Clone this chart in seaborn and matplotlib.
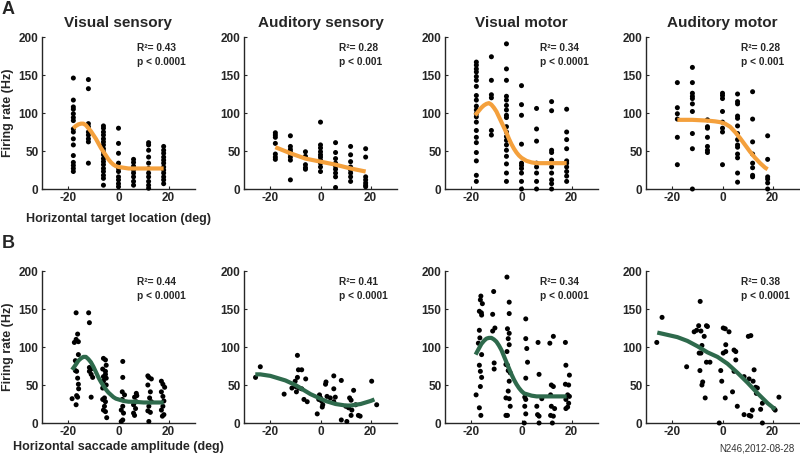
import numpy as np
import pandas as pd
import seaborn as sns
import matplotlib
matplotlib.use("Agg")
import matplotlib.pyplot as plt

# ---- data ----
locs = [-18, -12, -6, 0, 6, 12, 18]

# row A: firing rate at each target location
vis_sens = [[146, 117, 108, 105, 99, 94, 90, 79, 75, 66, 58, 44, 35, 31, 27, 23],
            [144, 132, 86, 82, 75, 71, 66, 62, 34],
            [83, 80, 75, 71, 66, 62, 58, 53, 49, 45, 40, 36, 32, 27, 23, 18, 14, 5],
            [80, 60, 47, 34, 27, 23, 16, 12, 7, 3],
            [39, 35, 30, 25, 21, 16, 10, 5],
            [61, 58, 51, 42, 34, 27, 21, 16, 10, 5, 1],
            [56, 51, 47, 42, 38, 34, 29, 25, 21, 16, 12, 7]]
aud_sens = [[74, 71, 68, 60, 46, 42, 39],
            [70, 56, 52, 49, 46, 42, 38, 12],
            [49, 43, 32, 28, 26],
            [88, 58, 54, 49, 45, 42, 38, 34, 29, 23],
            [61, 48, 40, 34, 30, 26, 21, 16, 2],
            [56, 45, 36, 29, 25, 21, 16, 10],
            [53, 42, 16, 12, 8, 5, 3]]
vis_mot = [[167, 163, 158, 154, 148, 143, 135, 123, 117, 109, 104, 99, 95, 88, 77, 68, 61, 48, 37, 18, 10],
           [174, 143, 124, 120, 77, 71],
           [191, 158, 143, 122, 117, 110, 104, 97, 94, 82, 75, 69, 64, 58, 51, 43, 33, 21, 10],
           [136, 111, 97, 59, 34, 31, 27, 21, 10, 0],
           [106, 79, 63, 34, 29, 21, 10, 0],
           [115, 103, 51, 48, 38, 29, 21, 12, 7, 0],
           [105, 75, 65, 53, 37, 34, 29, 23, 17, 10]]
aud_mot = [[140, 107, 99, 92, 68, 32],
           [160, 140, 126, 122, 119, 112, 102, 73, 53, 0],
           [91, 82, 80, 68, 56, 51, 48],
           [126, 123, 119, 102, 88, 80, 75, 32],
           [125, 115, 112, 96, 93, 83, 73, 65, 58, 55, 46, 41, 21, 9],
           [128, 92, 62, 46, 34, 28, 18, 16],
           [70, 39, 16, 13, 8, 0]]

# row B: firing rate vs saccade amplitude
vs_sac_x = [-16.9, -16.3, -16.9, -16.0, -17.6, -16.0, -17.2, -17.2, -16.7, -16.3, -16.0, -15.9, -16.7, -16.3, -18.5, -16.9,
            -11.9, -11.6, -11.6, -10.9, -11.6, -10.9, -10.3, -10.9,
            -6.0, -5.2, -4.9, -6.3, -5.2, -5.2, -6.0, -4.9, -6.0, -4.9, -6.3, -5.6, -6.3, -5.2, -5.6, -6.0, -5.2, -4.7,
            1.7, 1.7, 1.5, 2.4, 1.5, 1.7, 1.1, 2.0, 1.7, 1.1,
            7.1, 7.3, 6.4, 7.1, 6.0, 6.8, 6.0, 6.4,
            11.7, 12.1, 13.1, 11.7, 12.7, 12.4, 13.1, 12.1, 11.7, 12.7, 12.1,
            17.1, 17.7, 18.4, 17.1, 17.7, 18.1, 17.7, 17.1, 18.1, 17.5]
vs_sac_y = [145, 117, 110, 107, 106, 90, 82, 69, 68, 59, 51, 45, 36, 34, 32, 24,
            145, 132, 73, 71, 68, 64, 60, 34,
            85, 83, 76, 71, 68, 64, 61, 59, 55, 50, 46, 33, 31, 28, 22, 17, 15, 7,
            81, 60, 41, 37, 31, 22, 17, 13, 4, 2,
            39, 36, 34, 28, 24, 19, 13, 10,
            62, 60, 58, 50, 41, 33, 28, 22, 16, 14, 2,
            55, 51, 47, 41, 35, 29, 22, 17, 11, 9]
as_sac_x = [-25.9, -24.0, -14.5, -11.4, -10.1, -9.2, -8.8, -7.5, -9.2, -9.9, -9.6, -8.6, -7.5, -5.9, -6.6,
            -5.3, -1.3, -0.4, 0.0, -0.7, 0.4, 2.0, 2.2, 0.9, 0.7, 2.6, 3.9, 5.3, 5.3, 5.9,
            5.3, 8.3, 8.3, 10.5, 10.1, 11.2, 11.6, 12.2, 13.2, 12.5, 12.2, 14.0, 15.1, 15.8, 20.4, 22.4]
as_sac_y = [60, 74, 38, 46, 55, 89, 70, 70, 60, 48, 41, 46, 45, 58, 31,
            28, 12, 37, 33, 31, 29, 51, 54, 24, 21, 35, 33, 62, 45, 34,
            28, 56, 4, 2, 22, 20, 33, 30, 43, 17, 10, 24, 10, 9, 55, 24]
vm_sac_x = [-16.2, -16.4, -16.8, -16.0, -15.9, -16.8, -17.2, -15.9, -16.8, -16.4, -15.9, -16.4, -18.1, -16.8, -16.2, -15.6, -16.6,
            -11.1, -11.5, -10.6, -11.5, -10.9, -10.9,
            -5.8, -4.9, -4.9, -5.6, -4.9, -5.3, -4.9, -5.8, -6.2, -5.6, -5.3, -4.5, -4.9, -5.3, -6.2, -4.9, -4.5, -5.6, -6.2,
            1.7, 1.7, 2.1, 2.4, 1.7, 1.3, 1.7, 1.3, 1.7, 1.1,
            6.6, 7.0, 6.1, 6.4, 7.0, 7.0, 8.1,
            11.3, 12.7, 11.9, 12.7, 11.6, 11.9, 11.6, 12.7, 12.3, 13.2,
            17.5, 17.7, 19.1, 17.5, 18.8, 18.4, 19.1, 17.7, 18.8, 17.7, 18.4]
vm_sac_y = [167, 162, 147, 145, 142, 122, 105, 90, 76, 68, 60, 48, 37, 20, 10, 157, 112,
            173, 143, 125, 121, 79, 71,
            192, 159, 144, 124, 118, 111, 103, 94, 77, 76, 69, 66, 55, 42, 33, 32, 22, 10, 10,
            137, 111, 98, 80, 59, 34, 31, 22, 12, 0,
            106, 64, 22, 11, 9, 0, 32,
            105, 114, 50, 48, 37, 22, 10, 9, 0, 19,
            106, 76, 63, 51, 50, 37, 35, 31, 26, 19, 21]
am_sac_x = [-26.2, -24.1, -14.3, -11.3, -10.3, -9.5, -8.9, -8.6, -9.3, -8.6, -8.2, -7.3, -9.0, -7.9, -8.2,
            -6.9, -6.4, -6.0, -6.4, -5.0, -0.7, -0.3, -1.3, 0.3, 1.1, 2.6, 0.3, 1.3, 1.3, 1.1,
            4.6, 5.3, 5.3, 4.6, 4.0, 5.9, 8.6, 10.3, 11.3, 10.6, 12.2, 12.6, 13.2, 13.9, 13.5,
            8.6, 10.6, 11.3, 11.9, 15.2, 15.9, 15.9, 21.0, 22.5, 20.5]
am_sac_y = [106, 139, 74, 120, 122, 128, 160, 121, 92, 92, 102, 114, 69, 54, 50,
            33, 128, 127, 80, 80, 69, 55, 0, 125, 124, 120, 92, 94, 103, 33,
            96, 94, 83, 68, 41, 22, 61, 114, 115, 58, 55, 70, 47, 46, 39,
            11, 10, 9, 17, 18, 26, 0, 17, 34, 19]

# fitted curves
fit_vs_x = [-18, -17, -16, -15, -14, -13, -12, -11, -10, -9, -8, -7, -6, -5, -4, -3, -2, -1, 0, 2, 4, 6, 10, 14, 18]
fit_vs_y = [80, 83, 85, 86, 86, 84, 80, 76, 71, 66, 60, 54, 49, 44, 39, 35, 32, 30, 29, 28, 27, 27, 27, 27, 27]
fit_as_x = [-18, -12, -6, 0, 6, 12, 18]
fit_as_y = [55, 47, 40, 36, 32, 27, 23]
fit_vm_x = [-18.5, -17, -16, -15, -14, -13, -12, -11, -10, -9, -8, -7, -6, -5, -4, -3, -2, -1, 0, 2, 4, 6, 10, 14, 18]
fit_vm_y = [97, 103, 107, 110, 112, 113, 111, 107, 102, 95, 88, 81, 74, 66, 59, 53, 48, 44, 41, 37, 35, 34, 34, 34, 34]
fit_am_x = [-18, -12, -6, -3, -1, 1, 3, 5, 7, 9, 11, 13, 15, 17, 18]
fit_am_y = [91, 91, 90, 89, 88, 86, 82, 75, 67, 58, 49, 41, 34, 28, 26]

fit_vs_sac_x = [-18.5, -17, -16, -15, -14, -13, -12, -11, -10, -9, -8, -7, -6, -5, -4, -3, -2, -1, 0, 2, 4, 6, 10, 14, 18]
fit_vs_sac_y = [70, 77, 82, 85, 87, 87, 84, 80, 74, 67, 60, 54, 49, 44, 40, 37, 34, 32, 31, 29, 28, 28, 27, 27, 27]
fit_as_sac_x = [-26, -24, -22, -20, -18, -16, -14, -12, -10, -8, -6, -4, -2, 0, 2, 4, 6, 8, 10, 12, 14, 16, 18, 20, 21.5]
fit_as_sac_y = [64, 64, 63, 62, 60, 58, 56, 53, 50, 46, 42, 38, 35, 32, 29, 27, 25, 24, 23, 23, 24, 25, 27, 29, 31]
fit_vm_sac_x = [-18.3, -17, -16, -15, -14, -13, -12, -11, -10, -9, -8, -7, -6, -5, -4, -3, -2, -1, 0, 1, 2, 4, 6, 8, 12, 18]
fit_vm_sac_y = [90, 98, 104, 108, 111, 112, 112, 110, 107, 102, 96, 88, 80, 72, 64, 57, 51, 46, 42, 39, 38, 36, 35, 35, 35, 35]
fit_am_sac_x = [-26, -22, -18, -14, -10, -6, -2, 2, 6, 10, 14, 18, 21]
fit_am_sac_y = [119, 116, 113, 108, 101, 93, 87, 78, 66, 53, 39, 26, 18]

titles = ["Visual sensory", "Auditory sensory", "Visual motor", "Auditory motor"]
r2_a = ["0.43", "0.28", "0.34", "0.28"]
p_a = ["p < 0.0001", "p < 0.001", "p < 0.0001", "p < 0.001"]
r2_b = ["0.44", "0.41", "0.34", "0.38"]
p_b = ["p < 0.0001", "p < 0.0001", "p < 0.0001", "p < 0.0001"]


def long_form(groups):
    xs, ys = [], []
    for loc, vals in zip(locs, groups):
        xs += [loc] * len(vals)
        ys += vals
    return pd.DataFrame({"x": xs, "y": ys})


row_a = [long_form(g) for g in [vis_sens, aud_sens, vis_mot, aud_mot]]
row_b = [pd.DataFrame({"x": x, "y": y}) for x, y in
         [(vs_sac_x, vs_sac_y), (as_sac_x, as_sac_y), (vm_sac_x, vm_sac_y), (am_sac_x, am_sac_y)]]
fits_a = [(fit_vs_x, fit_vs_y), (fit_as_x, fit_as_y), (fit_vm_x, fit_vm_y), (fit_am_x, fit_am_y)]
fits_b = [(fit_vs_sac_x, fit_vs_sac_y), (fit_as_sac_x, fit_as_sac_y),
          (fit_vm_sac_x, fit_vm_sac_y), (fit_am_sac_x, fit_am_sac_y)]

# ---- style ----
sns.set_style("ticks")
plt.rcParams['font.family'] = ['Liberation Sans', 'DejaVu Sans']
plt.rcParams['font.weight'] = 'bold'
plt.rcParams['axes.labelweight'] = 'bold'
plt.rcParams['axes.titleweight'] = 'bold'
plt.rcParams['axes.unicode_minus'] = False

orange = "#F4A03C"
green = "#2E6A4C"

fig = plt.figure(figsize=(8, 4.58), dpi=100)
lefts = [42, 244, 445, 646]
W, H = 800, 458


def draw(ax, df, fx, fy, color, r2, ptxt):
    sns.scatterplot(data=df, x="x", y="y", ax=ax, color="black", s=13,
                    edgecolor="none", clip_on=False, zorder=3)
    sns.lineplot(x=fx, y=fy, ax=ax, color=color, linewidth=3.0, zorder=4,
                 solid_capstyle="butt")
    ax.set_xlim(-30.5, 30.5)
    ax.set_ylim(0, 200)
    ax.set_xticks([-20, 0, 20])
    ax.set_yticks([0, 50, 100, 150, 200])
    ax.tick_params(direction="in", length=2, width=0.8, labelsize=8.5, pad=2.5)
    for lab in ax.get_xticklabels() + ax.get_yticklabels():
        lab.set_fontweight("bold")
    for s in ["top", "right"]:
        ax.spines[s].set_visible(False)
    for s in ["left", "bottom"]:
        ax.spines[s].set_linewidth(1.0)
    ax.set_xlabel("")
    ax.set_ylabel("")
    ax.text(0.62, 0.925, "R\u00b2= " + r2, transform=ax.transAxes, fontsize=7.3,
            fontweight="bold", va="center", ha="left")
    ax.text(0.62, 0.835, ptxt, transform=ax.transAxes, fontsize=7.3,
            fontweight="bold", va="center", ha="left")


for i in range(4):
    ax = fig.add_axes([lefts[i] / W, 1 - 189 / H, 153 / W, 152 / H])
    draw(ax, row_a[i], *fits_a[i], orange, r2_a[i], p_a[i])
    ax.set_title(titles[i], fontsize=11, pad=7)
    if i == 0:
        ax.set_ylabel("Firing rate (Hz)", fontsize=9, labelpad=3)
        ax.set_xlabel("Horizontal target location (deg)", fontsize=9, labelpad=6)

    ax = fig.add_axes([lefts[i] / W, 1 - 423 / H, 153 / W, 152 / H])
    draw(ax, row_b[i], *fits_b[i], green, r2_b[i], p_b[i])
    if i == 0:
        ax.set_ylabel("Firing rate (Hz)", fontsize=9, labelpad=3)
        ax.set_xlabel("Horizontal saccade amplitude (deg)", fontsize=9, labelpad=1.5)

fig.text(0.002, 0.998, "A", fontsize=13, fontweight="bold", va="top", ha="left")
fig.text(0.002, 0.487, "B", fontsize=13, fontweight="bold", va="top", ha="left")
fig.text(0.993, 0.01, "N246,2012-08-28", fontsize=7, fontweight="normal",
         color="#333333", ha="right", va="bottom")

fig.savefig("out.png", dpi=100)
